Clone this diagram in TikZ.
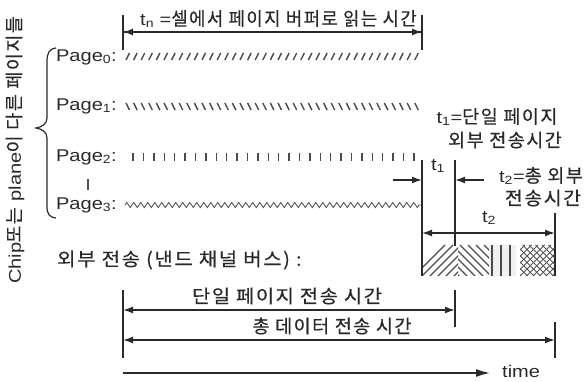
\documentclass[tikz,border=0pt]{standalone}
\usepackage{fontspec}
\usepackage{graphicx}
\setmainfont{Liberation Sans}[FakeStretch=1.18]
\newfontfamily\kr{Noto Sans CJK KR}[LetterSpace=8,FakeBold=0.4]
\usetikzlibrary{arrows.meta,decorations.pathmorphing}
\newcommand\K[1]{{\kr\fontsize{18.5}{20}\selectfont #1}}
\newcommand\KS[2]{\scalebox{#1}[1]{\K{#2}}}
\definecolor{ink}{HTML}{2A2A2A}
\definecolor{txt}{HTML}{2A2A2A}
\begin{document}
\begin{tikzpicture}[x=1pt,y=-1pt,
  every node/.style={inner sep=0pt,text=txt,font=\fontsize{17}{19}\selectfont},
  tick/.style={draw=ink,line width=1.3pt},
  axis/.style={draw=ink,line width=1.5pt},
  tip/.style={-{Latex[length=10pt,width=7pt]}},
  tips/.style={{Latex[length=10pt,width=7pt]}-{Latex[length=10pt,width=7pt]}},
  hatch/.style={draw=ink!85,line width=1.4pt},
  fine/.style={draw=ink!80,line width=0.9pt}]
\path[use as bounding box] (0,0) rectangle (584,382);
% ---------- top: t_n ----------
\coordinate (topL) at (123,32);
\coordinate (topR) at (422,32);
\draw[tick] (123,15) -- (123,50);
\draw[tick] (422,15) -- (422,50);
\draw[axis,tip] (topL) -- (topR);
\draw[axis,tip] (topR) -- (topL);
\node[anchor=west] (tn) at (140,19) {t\textsubscript{n} =\KS{0.96}{셀에서 페이지 버퍼로 읽는 시간}};
% ---------- page labels ----------
\node[anchor=east] (p0) at (117,57) {Page\textsubscript{0}:};
\node[anchor=east] (p1) at (117,106) {Page\textsubscript{1}:};
\node[anchor=east] (p2) at (117,157) {Page\textsubscript{2}:};
\node[anchor=east] (p3) at (117,205) {Page\textsubscript{3}:};
\draw[draw=ink!80,line width=1.2pt] (88,179) -- (88,190);
% rows
\foreach \i in {0,...,38} \draw[hatch] ({126+\i*7.6},60) -- ({129.5+\i*7.6},53);
\foreach \i in {0,...,38} \draw[hatch] ({126+\i*7.6},103) -- ({129.5+\i*7.6},110);
\foreach \i in {0,...,27} \draw[hatch] ({133+\i*10.4},153) -- ({133+\i*10.4},161);
\draw[fine,decorate,decoration={zigzag,segment length=7pt,amplitude=2.5pt}] (125,205) -- (421,205);
% brace
\draw[draw=ink,line width=1.2pt] (56,48) .. controls (49,49) and (47,53) .. (47,62) -- (47,118)
  .. controls (47,124) and (42,127) .. (36,128) .. controls (42,129) and (47,132) .. (47,138)
  -- (47,206) .. controls (47,214) and (49,217) .. (56,218);
% vertical side text
\node[rotate=90] (side) at (15,150) {Chip\K{또는} plane\K{이 다른 페이지들}};
% ---------- right: t1, t2 ----------
\coordinate (a1) at (422,180);
\coordinate (a2) at (455,180);
\draw[tick] (422,160) -- (422,276);
\draw[tick] (455,160) -- (455,246);
\draw[axis,tip] (393,180) -- (a1);
\draw[axis,tip] (484,180) -- (a2);
\node (t1) at (438,166) {t\textsubscript{1}};
\node (t1a) at (497,117) {t\textsubscript{1}=\K{단일 페이지}};
\node (t1b) at (505,140) {\K{외부 전송시간}};
\node (t2a) at (541,176) {t\textsubscript{2}=\K{총 외부}};
\node (t2b) at (543,198) {\KS{1.05}{전송시간}};
\node (t2) at (489,218) {t\textsubscript{2}};
\coordinate (b1) at (422,233);
\coordinate (b2) at (555,233);
\draw[tick] (555,213) -- (555,276);
\draw[axis,tips] (b1) -- (b2);
% block
\begin{scope}
\clip (423,245) rectangle (458,276);
\foreach \i in {0,...,10} \draw[hatch] ({410+\i*8},280) -- ({445+\i*8},245);
\end{scope}
\begin{scope}
\clip (458,245) rectangle (489,276);
\foreach \i in {0,...,10} \draw[hatch] ({420+\i*8},245) -- ({455+\i*8},280);
\end{scope}
\fill[gray!12] (489,245) rectangle (516,276);
\foreach \x in {492,501,510} \draw[hatch] (\x,245) -- (\x,276);
\begin{scope}
\clip (520,245) rectangle (554,276);
\foreach \i in {0,...,12} {
  \draw[fine] ({490+\i*6.5},280) -- ({525+\i*6.5},245);
  \draw[fine] ({490+\i*6.5},245) -- ({525+\i*6.5},280);
}
\end{scope}
\node[anchor=west] (ext) at (57,260) {\KS{1.08}{외부 전송 (낸드 채널 버스) :}};
% ---------- bottom ----------
\draw[tick] (123,290) -- (123,358);
\draw[tick] (455,290) -- (455,327);
\draw[tick] (555,322) -- (555,358);
\coordinate (c0) at (123,310);
\coordinate (c1) at (455,310);
\coordinate (d0) at (123,340);
\coordinate (d1) at (555,340);
\draw[axis,tips] (c0) -- (c1);
\draw[axis,tips] (d0) -- (d1);
\node (single) at (287,296) {\KS{1.07}{단일 페이지 전송 시간}};
\node (total) at (332,326) {\K{총 데이터 전송 시간}};
\coordinate (e0) at (123,373);
\coordinate (e1) at (490,373);
\draw[axis,-{Latex[length=14pt,width=8pt]}] (e0) -- (e1);
\node[anchor=west] (time) at (502,371) {time};
\end{tikzpicture}
\end{document}
